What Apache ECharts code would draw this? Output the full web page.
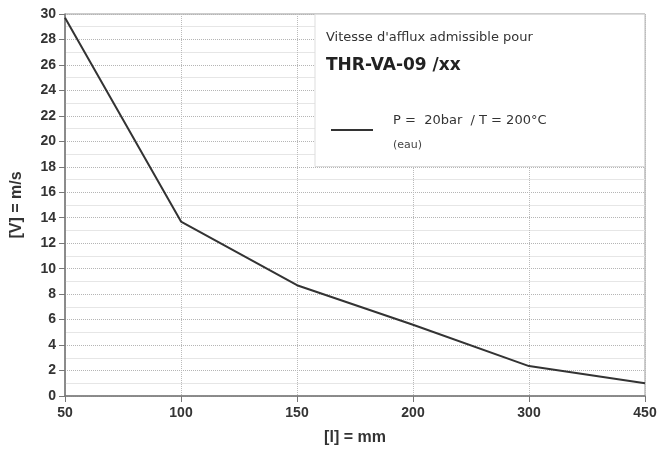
<!DOCTYPE html>
<html><head><meta charset="utf-8">
<script src="https://cdn.jsdelivr.net/npm/echarts@6/dist/echarts.min.js"></script>
<style>html,body{margin:0;padding:0;background:#fff}#c{width:670px;height:452px}</style>
</head><body><div id="c"></div>
<script>
const categories = ['50','100','150','200','300','450'];
const velocity = [29.7, 13.7, 8.7, 5.6, 2.35, 1.0];
const yTicks = {min:0, max:30, interval:2};

const chart = echarts.init(document.getElementById('c'));
const font = '"Liberation Sans", "DejaVu Sans", sans-serif';
const wfont = '"DejaVu Sans", sans-serif';
chart.setOption({
  backgroundColor:'#fff',
  animation:false,
  grid:{left:65, right:25, top:14, bottom:56, show:true, borderColor:'#999', borderWidth:1, backgroundColor:'transparent'},
  xAxis:{
    type:'category', data:categories, boundaryGap:false,
    name:'[l] = mm', nameLocation:'middle', nameGap:34,
    nameTextStyle:{fontFamily:font, fontSize:16, fontWeight:'bold', color:'#333'},
    axisLine:{lineStyle:{color:'#777', width:1.5}},
    axisTick:{show:true, alignWithLabel:true, length:6, lineStyle:{color:'#777'}},
    axisLabel:{fontFamily:font, fontSize:14, fontWeight:'bold', color:'#333', margin:10},
    splitLine:{show:true, lineStyle:{color:'#bbb', type:'dotted'}}
  },
  yAxis:{
    type:'value', min:yTicks.min, max:yTicks.max, interval:yTicks.interval,
    name:'[V] = m/s', nameLocation:'middle', nameGap:40,
    nameTextStyle:{fontFamily:font, fontSize:16, fontWeight:'bold', color:'#333'},
    axisLine:{show:true, lineStyle:{color:'#777', width:1.5}},
    axisTick:{show:true, length:6, lineStyle:{color:'#777'}},
    axisLabel:{fontFamily:font, fontSize:14, fontWeight:'bold', color:'#333', margin:9},
    splitLine:{show:true, lineStyle:{color:'#b5b5b5', type:'dotted'}},
    minorTick:{show:false, splitNumber:2},
    minorSplitLine:{show:true, lineStyle:{color:'#e6e6e6', type:'solid'}}
  },
  series:[{
    type:'line', data:velocity, symbol:'none',
    lineStyle:{color:'#333', width:2}
  }],
  graphic:[
    {type:'rect', shape:{x:315, y:14.5, width:329.5, height:152}, style:{fill:'#fff', stroke:'#ddd', lineWidth:1}, z:100},
    {type:'text', left:326, top:31, style:{text:"Vitesse d'afflux admissible pour", font:'13px '+wfont, fill:'#333'}, z:101},
    {type:'text', left:326, top:57, style:{text:'THR-VA-09 /xx', font:'bold 17px '+wfont, fill:'#222'}, z:101},
    {type:'line', shape:{x1:331, y1:130, x2:373, y2:130}, style:{stroke:'#333', lineWidth:2}, z:101},
    {type:'text', left:393, top:114, style:{text:'P =  20bar  / T = 200°C', font:'13px '+wfont, fill:'#333'}, z:101},
    {type:'text', left:393, top:140, style:{text:'(eau)', font:'11px '+wfont, fill:'#444'}, z:101}
  ]
});
</script></body></html>
